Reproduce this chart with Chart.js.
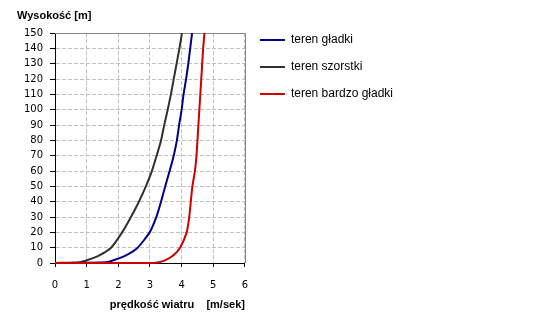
<!DOCTYPE html>
<html><head><meta charset="utf-8">
<script src="https://cdn.jsdelivr.net/npm/chart.js@4/dist/chart.umd.min.js"></script>
<style>html,body{margin:0;padding:0;background:#fff}</style>
</head><body>
<canvas id="c" width="550" height="315"></canvas>
<script>
const seriesNames = ['teren gładki', 'teren szorstki', 'teren bardzo gładki'];
const seriesColors = ['#000080', '#303030', '#cc0000'];

const smoothSpeed  = [0, 1.61, 1.87, 2.24, 2.61, 2.99, 3.20, 3.35, 3.48, 3.62, 3.75, 3.85, 3.92, 4.00, 4.06, 4.14, 4.21, 4.27, 4.33];
const smoothHeight = [0, 0.5,  2,    5,    10,   20,   30,   40,   50,   60,   70,   80,   90,   100,  110,  120,  130,  140,  150];

const roughSpeed  = [0, 0.77, 1.03, 1.40, 1.77, 2.12, 2.40, 2.65, 2.87, 3.06, 3.21, 3.35, 3.45, 3.56, 3.66, 3.75, 3.84, 3.93, 4.01];
const roughHeight = [0, 0.5,  2,    5,    10,   20,   30,   40,   50,   60,   70,   80,   90,   100,  110,  120,  130,  140,  150];

const verySmoothSpeed  = [0, 3.10, 3.29, 3.51, 3.74, 3.95, 4.16, 4.24, 4.29, 4.34, 4.42, 4.47, 4.50, 4.53, 4.56, 4.59, 4.62, 4.65, 4.68, 4.72];
const verySmoothHeight = [0, 0,    0.5,  2,    5,    10,   20,   30,   40,   50,   60,   70,   80,   90,   100,  110,  120,  130,  140,  150];

const xTitle = 'prędkość wiatru    [m/sek]';
const yTitle = 'Wysokość [m]';
const xMin = 0, xMax = 6, xStep = 1;
const yMin = 0, yMax = 150, yStep = 10;

function pts(xs, ys) { return xs.map((x, i) => ({x: x, y: ys[i]})); }

const legendFontSize = 12;
const mctx = document.createElement('canvas').getContext('2d');
mctx.font = legendFontSize + 'px "Liberation Sans"';
const maxTextW = Math.max(...seriesNames.map(s => mctx.measureText(s).width));
const legendPad = 15, legendLineW = 25;
const legendW = legendPad + legendLineW + legendFontSize / 2 + maxTextW + 10;
const padRight = Math.round(305 - legendW);

const frame = {
  id: 'frame',
  beforeDatasetsDraw(chart) {
    const a = chart.chartArea, ctx = chart.ctx;
    ctx.save();
    ctx.strokeStyle = '#868686';
    ctx.lineWidth = 1;
    ctx.beginPath();
    ctx.moveTo(a.left, Math.round(a.top) + 0.5);
    ctx.lineTo(Math.round(a.right) + 0.5, Math.round(a.top) + 0.5);
    ctx.lineTo(Math.round(a.right) + 0.5, a.bottom);
    ctx.stroke();
    ctx.restore();
  }
};

const datasets = [
  {label: seriesNames[0], data: pts(smoothSpeed, smoothHeight), borderColor: seriesColors[0], backgroundColor: seriesColors[0], order: 2},
  {label: seriesNames[1], data: pts(roughSpeed, roughHeight), borderColor: seriesColors[1], backgroundColor: seriesColors[1], order: 3},
  {label: seriesNames[2], data: pts(verySmoothSpeed, verySmoothHeight), borderColor: seriesColors[2], backgroundColor: seriesColors[2], order: 1}
].map(d => Object.assign(d, {showLine: true, pointRadius: 0, borderWidth: 2, tension: 0.2, clip: false, borderJoinStyle: 'round'}));

new Chart(document.getElementById('c'), {
  type: 'scatter',
  data: {datasets: datasets},
  options: {
    responsive: false,
    animation: false,
    devicePixelRatio: 1,
    layout: {padding: {left: 17, right: padRight, top: 0, bottom: 0}},
    plugins: {
      tooltip: {enabled: false},
      title: {
        display: true, text: yTitle, align: 'start', color: '#000',
        font: {family: 'Liberation Sans', size: 11, weight: 'bold'},
        padding: {top: 9, bottom: 11}
      },
      legend: {
        position: 'right', align: 'start', fullSize: true, maxWidth: 300,
        title: {display: true, text: '', padding: {top: 7, bottom: 0}, font: {size: 10}},
        labels: {
          usePointStyle: true, pointStyle: 'line', pointStyleWidth: legendLineW,
          padding: legendPad, color: '#000',
          font: {family: 'Liberation Sans', size: legendFontSize},
          sort: (a, b) => a.datasetIndex - b.datasetIndex
        }
      }
    },
    scales: {
      x: {
        type: 'linear', min: xMin, max: xMax,
        ticks: {stepSize: xStep, color: '#000', padding: 12, autoSkip: false, font: {family: 'DejaVu Sans', size: 10}},
        grid: {color: '#c0c0c0', tickColor: '#000', tickLength: 4, lineWidth: 1},
        border: {color: '#000', width: 1, dash: [4, 2]},
        title: {display: true, text: xTitle, align: 'end', color: '#000',
          font: {family: 'Liberation Sans', size: 11, weight: 'bold'}, padding: {top: 6, bottom: 3}},
        afterFit(scale) { scale.height = 52; }
      },
      y: {
        type: 'linear', min: yMin, max: yMax,
        ticks: {stepSize: yStep, color: '#000', padding: 7, autoSkip: false, font: {family: 'DejaVu Sans', size: 10}},
        grid: {color: '#c0c0c0', tickColor: '#000', tickLength: 5, lineWidth: 1},
        border: {color: '#000', width: 1, dash: [4, 2]},
        afterFit(scale) { scale.width = 38; }
      }
    }
  },
  plugins: [frame]
});
</script>
</body></html>
